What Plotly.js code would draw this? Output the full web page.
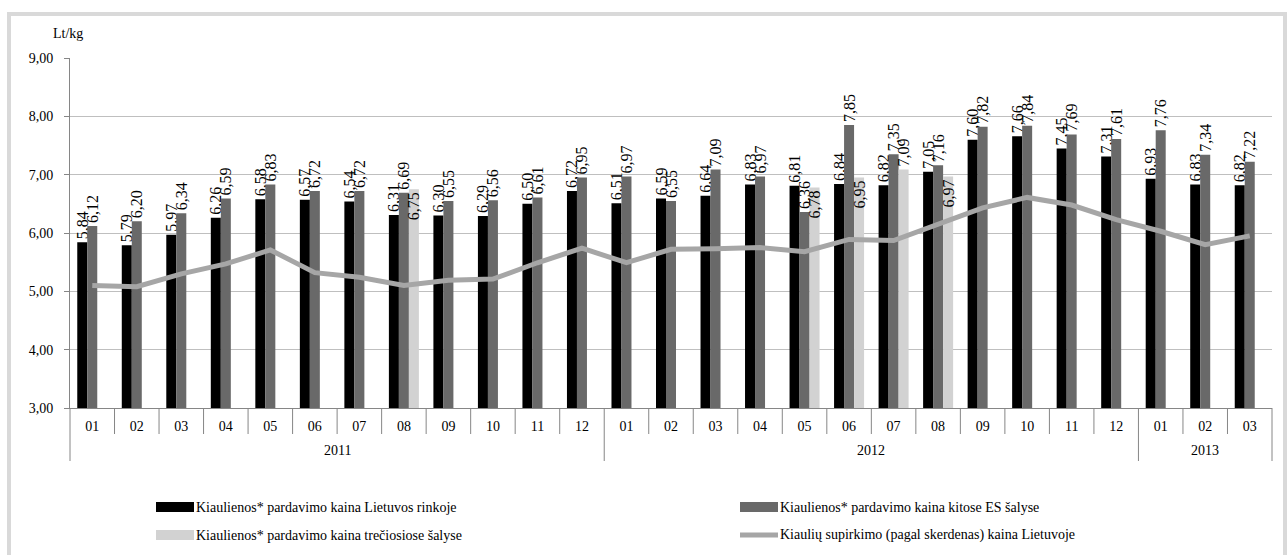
<!DOCTYPE html>
<html>
<head>
<meta charset="utf-8">
<script src="https://cdn.plot.ly/plotly-3.0.1.min.js"></script>
<style>html,body{margin:0;padding:0;background:#fff;}#chart{width:1287px;height:555px;}</style>
</head>
<body>
<div id="chart"></div>
<script>
// ---- data ----
const years = ['2011','2011','2011','2011','2011','2011','2011','2011','2011','2011','2011','2011',
               '2012','2012','2012','2012','2012','2012','2012','2012','2012','2012','2012','2012',
               '2013','2013','2013'];
const months = ['01','02','03','04','05','06','07','08','09','10','11','12',
                '01','02','03','04','05','06','07','08','09','10','11','12',
                '01','02','03'];
const priceLT = [5.84,5.79,5.97,6.26,6.58,6.57,6.54,6.31,6.30,6.29,6.50,6.72,
                 6.51,6.59,6.64,6.83,6.81,6.84,6.82,7.05,7.60,7.66,7.45,7.31,
                 6.93,6.83,6.82];
const priceEU = [6.12,6.20,6.34,6.59,6.83,6.72,6.72,6.69,6.55,6.56,6.61,6.95,
                 6.97,6.55,7.09,6.97,6.36,7.85,7.35,7.16,7.82,7.84,7.69,7.61,
                 7.76,7.34,7.22];
const priceThird = [null,null,null,null,null,null,null,6.75,null,null,null,null,
                    null,null,null,null,6.78,6.95,7.09,6.97,null,null,null,null,
                    null,null,null];
const pigPurchase = [5.10,5.08,5.30,5.47,5.71,5.32,5.24,5.10,5.19,5.21,5.49,5.74,
                     5.49,5.72,5.73,5.75,5.68,5.89,5.87,6.16,6.43,6.61,6.48,6.23,
                     6.03,5.80,5.95];
const thirdLabelPos = [null,null,null,null,null,null,null,'inside',null,null,null,null,
                       null,null,null,null,'inside','inside','outside','inside',null,null,null,null,
                       null,null,null];
const names = ['Kiaulienos* pardavimo kaina Lietuvos rinkoje',
               'Kiaulienos* pardavimo kaina kitose ES šalyse',
               'Kiaulienos* pardavimo kaina trečiosiose šalyse',
               'Kiaulių supirkimo (pagal skerdenas) kaina Lietuvoje'];
const yTitle = 'Lt/kg';

// ---- style / geometry ----
const W = 1287, H = 555, ML = 70, MR = 15, MT = 58, MB = 147;
const PW = W - ML - MR, PH = H - MT - MB;
const px = x => (x - ML) / PW;
const py = y => (H - MB - y) / PH;
const FONT = 'Liberation Serif, Times New Roman, serif';
const COLORS = ['#000000', '#696969', '#d2d2d2', '#a6a6a6'];
const AXIS = '#868686';
const keys = years.map((y, i) => y + '-' + months[i]);   // unique category per month
const N = keys.length;
const LBL = 16;

const barCommon = {
  type: 'bar', x: keys,
  texttemplate: '%{y:.2f}', textangle: -90,
  textfont: {family: FONT, size: LBL, color: '#000'},
  insidetextfont: {family: FONT, size: LBL, color: '#000'},
  outsidetextfont: {family: FONT, size: LBL, color: '#000'},
  constraintext: 'none', cliponaxis: false, hoverinfo: 'y', showlegend: false
};

const traces = [
  Object.assign({}, barCommon, {name: names[0], y: priceLT, marker: {color: COLORS[0]}, textposition: 'outside'}),
  Object.assign({}, barCommon, {name: names[1], y: priceEU, marker: {color: COLORS[1]}, textposition: 'outside'}),
  Object.assign({}, barCommon, {name: names[2], y: priceThird, marker: {color: COLORS[2]},
     textposition: thirdLabelPos.map(p => p || 'none'), insidetextanchor: 'end'}),
  {type: 'scatter', mode: 'lines', name: names[3], x: keys, y: pigPurchase,
   line: {color: COLORS[3], width: 5}, showlegend: false, hoverinfo: 'y'}
];

const shapes = [];
const annotations = [];
// month separators and year dividers / labels
let groupStart = 0;
for (let i = 1; i <= N; i++) {
  if (i === N || years[i] !== years[i - 1]) {
    shapes.push({type: 'line', xref: 'paper', yref: 'paper', x0: i / N, x1: i / N,
                 y0: 0, y1: py(461), line: {color: AXIS, width: 1}});
    annotations.push({xref: 'paper', yref: 'paper', x: (groupStart + i) / 2 / N, y: py(450),
                      xanchor: 'center', yanchor: 'middle', text: years[i - 1], showarrow: false,
                      font: {family: FONT, size: 14, color: '#000'}});
    groupStart = i;
  } else {
    shapes.push({type: 'line', xref: 'paper', yref: 'paper', x0: i / N, x1: i / N,
                 y0: 0, y1: py(434), line: {color: AXIS, width: 1}});
  }
}
shapes.push({type: 'line', xref: 'paper', yref: 'paper', x0: 0, x1: 0,
             y0: 0, y1: py(461), line: {color: AXIS, width: 1}});
// frame
shapes.push({type: 'rect', xref: 'paper', yref: 'paper', x0: px(9), x1: px(1285), y0: py(14), y1: py(575),
             line: {color: '#d9d9d9', width: 4}, fillcolor: 'rgba(0,0,0,0)'});

// y unit label
annotations.push({xref: 'paper', yref: 'paper', x: px(51), y: py(33), xanchor: 'left', yanchor: 'middle',
   text: yTitle, showarrow: false, font: {family: FONT, size: 14, color: '#000'}});

// custom legend
const legendItems = [
  {i: 0, sx: 156, ty: 507},
  {i: 1, sx: 740, ty: 507},
  {i: 2, sx: 156, ty: 535},
  {i: 3, sx: 740, ty: 535}
];
legendItems.forEach(it => {
  if (it.i === 3) {
    shapes.push({type: 'line', xref: 'paper', yref: 'paper', x0: px(it.sx), x1: px(it.sx + 38),
                 y0: py(it.ty), y1: py(it.ty), line: {color: COLORS[3], width: 5}});
  } else {
    shapes.push({type: 'rect', xref: 'paper', yref: 'paper', x0: px(it.sx), x1: px(it.sx + 38),
                 y0: py(it.ty - 5), y1: py(it.ty + 5), line: {width: 0}, fillcolor: COLORS[it.i]});
  }
  annotations.push({xref: 'paper', yref: 'paper', x: px(it.sx + 38), y: py(it.ty), xanchor: 'left', yanchor: 'middle',
                    text: names[it.i], showarrow: false, font: {family: FONT, size: 14, color: '#000'}});
});

const layout = {
  width: W, height: H,
  margin: {l: ML, r: MR, t: MT, b: MB, pad: 0},
  paper_bgcolor: '#fff', plot_bgcolor: '#fff',
  separators: ', ',
  barmode: 'group', bargap: 0.326, bargroupgap: 0,
  font: {family: FONT, size: 14, color: '#000'},
  xaxis: {
    type: 'category', categoryorder: 'array', categoryarray: keys,
    tickvals: keys, ticktext: months, tickangle: 0,
    showline: true, linecolor: AXIS, linewidth: 1,
    showgrid: false, ticks: '', ticklabelstandoff: 5,
    tickfont: {family: FONT, size: 14, color: '#000'}, fixedrange: true
  },
  yaxis: {
    range: [3, 9], dtick: 1, tickformat: '.2f', showline: true, linecolor: AXIS, linewidth: 1,
    gridcolor: '#bfbfbf', gridwidth: 1, ticks: 'outside', ticklen: 5, tickcolor: AXIS,
    ticklabelstandoff: 8, zeroline: false,
    tickfont: {family: FONT, size: 14, color: '#000'}, fixedrange: true
  },
  shapes: shapes,
  annotations: annotations
};

Plotly.newPlot('chart', traces, layout, {displayModeBar: false, staticPlot: true});
</script>
</body>
</html>
